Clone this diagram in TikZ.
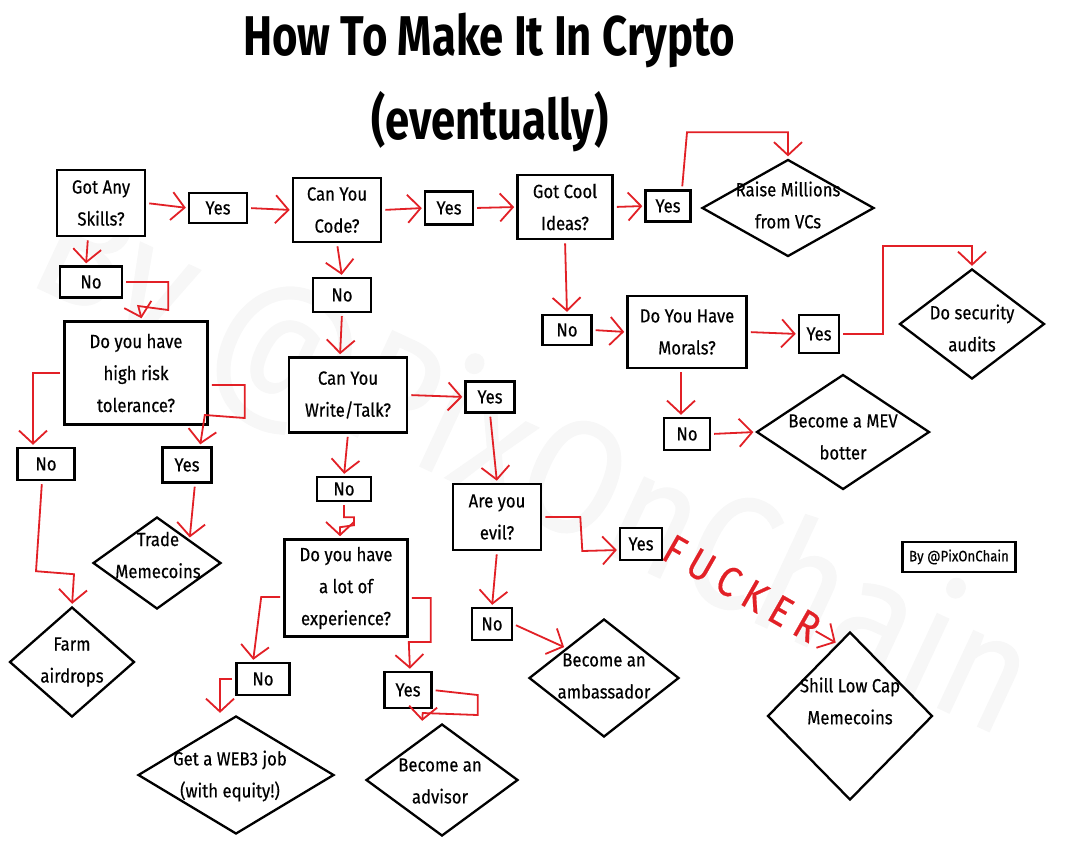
\documentclass[tikz,border=0pt]{standalone}
\usepackage{fontspec}
\setmainfont[FakeStretch=0.88,FakeBold=0.4]{Fira Sans}
\newfontfamily\titlefont[FakeStretch=0.78]{Fira Sans}
\usetikzlibrary{arrows.meta,shapes.geometric,decorations.text,calc}
\definecolor{linkred}{RGB}{226,32,38}
\tikzset{
  head/.style={font=\titlefont\bfseries\fontsize{56}{60}\selectfont},
  qbox/.style={draw,rectangle,line width=2.6pt,fill=white,align=center,inner sep=0pt,font=\fontsize{19}{32}\selectfont},
  ans/.style={draw,rectangle,line width=2.4pt,fill=white,inner sep=0pt,font=\fontsize{19}{22}\selectfont},
  decide/.style={draw,diamond,line width=2.3pt,fill=white,inner sep=0pt},
  dtext/.style={align=center,font=\fontsize{19}{32}\selectfont},
  wmark/.style={text=black!3,rotate=-25,font=\fontsize{162}{162}\selectfont},
  link/.style={draw=linkred,line width=1.8pt,-{Straight Barb[length=13pt,width=28pt,line width=1.8pt]},shorten >=2pt,shorten <=3pt},
}
\begin{document}
\begin{tikzpicture}[x=1pt,y=-1pt]
  \fill[white] (0,0) rectangle (1091,844);
  \useasboundingbox (0,0) rectangle (1091,844);
  \node[wmark] (water) at (532,468) {By @PixOnChain};

  \node[head] (title) at (489,40) {How To Make It In Crypto};
  \node[head] (subtitle) at (490,122) {(eventually)};

  \node[qbox,minimum width=88pt,minimum height=66pt] (skills) at (101,203) {Got Any\\Skills?};
  \node[ans,minimum width=58pt,minimum height=30pt] (yesA) at (218,208) {Yes};
  \node[qbox,minimum width=88pt,minimum height=64pt] (code) at (337,210) {Can You\\Code?};
  \node[ans,minimum width=48pt,minimum height=33pt] (yesB) at (449,208) {Yes};
  \node[qbox,minimum width=95pt,minimum height=64pt] (ideas) at (565,207) {Got Cool\\Ideas?};
  \node[ans,minimum width=45pt,minimum height=31pt] (yesC) at (668,206) {Yes};
  \node[decide,minimum width=172pt,minimum height=97pt] (raise) at (788,208) {};
  \node[dtext] (raiseT) at (788,205) {Raise Millions\\from VCs};

  \node[ans,minimum width=62pt,minimum height=31pt] (noA) at (91,282) {No};
  \node[ans,minimum width=58pt,minimum height=34pt] (noB) at (342,295) {No};
  \node[ans,minimum width=49pt,minimum height=30pt] (noC) at (567,330) {No};
  \node[qbox,minimum width=119pt,minimum height=72pt] (morals) at (687,332) {Do You Have\\Morals?};
  \node[ans,minimum width=40pt,minimum height=38pt] (yesD) at (819,334) {Yes};
  \node[decide,minimum width=145pt,minimum height=110pt] (audit) at (972,324) {};
  \node[dtext] (auditT) at (972,328) {Do security\\audits};

  \node[qbox,minimum width=143pt,minimum height=103pt] (risk) at (136,373) {Do you have\\high risk\\tolerance?};
  \node[qbox,minimum width=118pt,minimum height=75pt] (write) at (348,395) {Can You\\Write/Talk?};
  \node[ans,minimum width=49pt,minimum height=31pt] (yesE) at (490,397) {Yes};
  \node[ans,minimum width=46pt,minimum height=32pt] (noD) at (687,434) {No};
  \node[decide,minimum width=173pt,minimum height=115pt] (mev) at (843,432) {};
  \node[dtext] (mevT) at (843,437) {Become a MEV\\botter};

  \node[ans,minimum width=57pt,minimum height=32pt] (noE) at (46,464) {No};
  \node[ans,minimum width=49pt,minimum height=35pt] (yesF) at (187,465) {Yes};
  \node[ans,minimum width=54pt,minimum height=24pt] (noF) at (344,489) {No};
  \node[qbox,minimum width=88pt,minimum height=66pt] (evil) at (497,517) {Are you\\evil?};
  \node[decide,minimum width=128pt,minimum height=92pt] (trade) at (157,563) {};
  \node[dtext] (tradeT) at (158,555) {Trade\\Memecoins};
  \node[qbox,minimum width=123pt,minimum height=97pt] (exp) at (346,588) {Do you have\\a lot of\\experience?};
  \node[ans,minimum width=42pt,minimum height=32pt] (yesG) at (641,544) {Yes};
  \node[ans,minimum width=113pt,minimum height=30pt,font=\fontsize{15}{18}\selectfont] (credit) at (959,557) {By @PixOnChain};
  \node[ans,minimum width=40pt,minimum height=32pt] (noG) at (492,624) {No};

  \node[decide,minimum width=125pt,minimum height=110pt] (farm) at (72,662) {};
  \node[dtext] (farmT) at (72,662) {Farm\\airdrops};
  \node[ans,minimum width=53pt,minimum height=32pt] (noH) at (263,679) {No};
  \node[ans,minimum width=47pt,minimum height=36pt] (yesH) at (408,690) {Yes};
  \node[decide,minimum width=150pt,minimum height=118pt] (amb) at (604,678) {};
  \node[dtext] (ambT) at (604,676) {Become an\\ambassador};
  \node[decide,minimum width=165pt,minimum height=168pt] (shill) at (850,716) {};
  \node[dtext] (shillT) at (850,701) {Shill Low Cap\\Memecoins};
  \node[decide,minimum width=196pt,minimum height=118pt] (web3) at (236,775) {};
  \node[dtext] (web3T) at (230,776) {Get a WEB3 job\\(with equity!)};
  \node[decide,minimum width=152pt,minimum height=112pt] (advisor) at (442,780) {};
  \node[dtext] (advisorT) at (440,781) {Become an\\advisor};

  \draw[link] (skills.east) -- (yesA.west);
  \draw[link] (yesA.east) -- (code.west);
  \draw[link] (code.east) -- (yesB.west);
  \draw[link] (yesB.east) -- (ideas.west);
  \draw[link] (ideas.east) -- (yesC.west);
  \draw[link] ([xshift=14pt]yesC.north) -- ++(5,-57) -| (raise.north);
  \draw[link] ([xshift=-13pt]skills.south) -- ([xshift=-5pt]noA.north);
  \draw[link] (noA.east) -- ++(45,0) -- ++(0,28) -- ++(-30,-4) -- ([xshift=6pt]risk.north);
  \draw[link] (code.south) -- (noB.north);
  \draw[link] (noB.south) -- ([xshift=-8pt]write.north);
  \draw[link] (ideas.south) -- (noC.north);
  \draw[link] (noC.east) -- (morals.west);
  \draw[link] (morals.east) -- (yesD.west);
  \draw[link] (yesD.east) -- ++(43,0) -- ++(0,-88) -| (audit.north);
  \draw[link] ([xshift=-6pt]morals.south) -- ([xshift=-6pt]noD.north);
  \draw[link] (noD.east) -- (mev.west);
  \draw[link] (risk.west) -| ([xshift=-13pt]noE.north);
  \draw[link] ([yshift=-12pt]risk.east) -- ++(36,0) -- ++(0,33) -- ++(-40,-3) -- ([xshift=13pt]yesF.north);
  \draw[link] ([xshift=-4pt]noE.south) -- ++(-6,90) -- ++(38,3) -- (farm.north);
  \draw[link] ([xshift=8pt]yesF.south) -- (trade.north east);
  \draw[link] (write.east) -- (yesE.west);
  \draw[link] (write.south) -- (noF.north);
  \draw[link] (noF.south) -- ++(0,15) -- ++(10,0) -- ++(0,8) -- ++(-14,2) -- ([xshift=-6pt]exp.north);
  \draw[link] (yesE.south) -- (evil.north);
  \draw[link] (evil.east) -- ++(38,0) -- ++(2,34) -- ([yshift=-6pt]yesG.west);
  \draw[link] (evil.south) -- (noG.north);
  \draw[link] (noG.east) -- (amb.north west);
  \coordinate (fk) at ($(shill.north west)!0.7!(shill.north)$);
  \path[decorate,decoration={text along path,raise=-14pt,
    text align={fit to path,left indent=4pt,right indent=24pt},
    text={|\color{linkred}\fontsize{42}{42}\selectfont|FUCKER}}] (yesG.east) -- (fk);
  \draw[link] ($(yesG.east)!0.86!(fk)$) -- (fk);
  \draw[link] ([yshift=-9pt]exp.west) -- ++(-22,0) -- ([xshift=-10pt]noH.north);
  \draw[link] ([yshift=-10pt]exp.east) -- ++(22,0) -- ++(0,44) -- ++(-22,0) -- ([xshift=2pt]yesH.north);
  \draw[link] (noH.west) -| ([xshift=-16pt]web3.north);
  \draw[link] (yesH.east) -- ++(45,5) -- ++(0,20) -- ++(-55,-2) -- ([xshift=-20pt]advisor.north);
\end{tikzpicture}
\end{document}
